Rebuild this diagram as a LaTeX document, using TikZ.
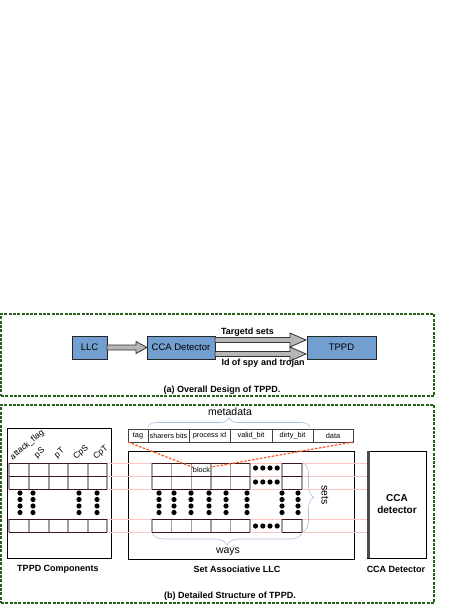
\documentclass[tikz,border=0pt]{standalone}
\usepackage{fontspec}
\setmainfont{Liberation Sans}
\usetikzlibrary{calc,decorations.pathreplacing}
\definecolor{boxblue}{HTML}{729FCF}
\definecolor{framegreen}{RGB}{40,95,30}
\definecolor{pinkline}{RGB}{255,195,195}
\definecolor{redline}{RGB}{255,85,30}
\definecolor{bracecol}{RGB}{170,190,222}
\definecolor{arrowgrey}{RGB}{182,182,182}
\definecolor{darkcell}{RGB}{60,25,25}
\newcommand\fatarr[5]{%
  \draw[fatarrow] ($#1+(0,#3)$) -- ($#2+(-#5,#3)$) -- ($#2+(-#5,#4)$) -- #2
    -- ($#2+(-#5,-#4)$) -- ($#2+(-#5,-#3)$) -- ($#1+(0,-#3)$) -- cycle;}
\begin{document}
\begin{tikzpicture}[x=1pt,y=-1pt,
  every node/.style={inner sep=0pt, outer sep=0pt},
  frame/.style={draw=framegreen, line width=1.4pt, dash pattern=on 3pt off 1.3pt},
  bluebox/.style={draw=black!85, fill=boxblue, line width=0.9pt, minimum height=23pt, font=\fontsize{9.5}{11}\selectfont},
  lbl/.style={font=\bfseries\fontsize{9}{10}\selectfont},
  fatarrow/.style={draw=black!80, fill=arrowgrey, line width=0.8pt},
  meta/.style={draw=black!75, line width=0.8pt, minimum height=13pt, anchor=north west, font=\fontsize{7.3}{8}\selectfont},
  hl/.style={draw=darkcell, line width=0.9pt},
  vl/.style={draw=gray!75, line width=1.4pt},
  dotm/.style={fill=black},
  pinkl/.style={draw=pinkline, line width=0.45pt},
  redl/.style={draw=redline, line width=1.2pt, dash pattern=on 2.5pt off 1.5pt},
  bracel/.style={draw=bracecol, line width=0.6pt, decorate, decoration={brace, amplitude=#1}},
  colhead/.style={rotate=40, anchor=base west, font=\fontsize{8.5}{9}\selectfont},
  panel/.style={draw=black, line width=1pt, anchor=north west},
  big/.style={font=\fontsize{10.5}{12}\selectfont}
]
\useasboundingbox (0,0) rectangle (468,605);

% ---------- frames ----------
\node[frame, minimum width=433pt, minimum height=82pt, anchor=north west] (framea) at (1,314) {};
\node[frame, minimum width=433pt, minimum height=198pt, anchor=north west] (frameb) at (1,405) {};

% ---------- (a) ----------
\node[bluebox, minimum width=35pt] (llc) at (89.5,347.5) {LLC};
\node[bluebox, minimum width=68pt] (ccaa) at (181,347.5) {CCA Detector};
\node[bluebox, minimum width=69pt] (tppd) at (341.5,347.5) {TPPD};
\fatarr{(llc.east)}{(ccaa.west)}{2.5}{6}{11}
\coordinate (u1) at ($(ccaa.east)+(0,-7.5)$);
\coordinate (u2) at ($(tppd.west)+(-1,-7.5)$);
\coordinate (d1) at ($(ccaa.east)+(0,6.5)$);
\coordinate (d2) at ($(tppd.west)+(-1,6.5)$);
\fatarr{(u1)}{(u2)}{2.5}{7}{16}
\fatarr{(d1)}{(d2)}{2.5}{7}{16}
\node[lbl] (ts) at (247.5,332.5) {Targetd sets};
\node[lbl] (ids) at (263,363.5) {Id of spy and trojan};
\node[lbl] (capa) at (222,390) {(a) Overall Design of TPPD.};

% ---------- (b) panels ----------
\node[panel, minimum width=104pt, minimum height=130pt] (tppdpanel) at (7,428) {};
\node[panel, minimum width=226pt, minimum height=108pt] (llcpanel) at (128,451) {};
\node[panel, minimum width=59pt, minimum height=107pt] (cca) at (367,451) {};
\fill[black!70] (cca.north west) rectangle ($(cca.south west)+(3,0)$);
\node[font=\bfseries\fontsize{10}{11.5}\selectfont, align=center] (ccatext) at (397,504) {CCA\\detector};

% pink guide lines
\foreach \y in {463,476,489,519,532}
  \draw[pinkl] (107,\y) -- (cca.west |- 0,\y);

% ---------- TPPD table ----------
\foreach \x in {9,29,49,68,88,107} {
  \draw[vl] (\x,463) -- (\x,489);
  \draw[vl] (\x,519) -- (\x,532);
}
\foreach \y in {463,476,489,519,532}
  \draw[hl] (9,\y) -- (107,\y);
\foreach \x in {20,33,79,97}
  \foreach \y in {493,499.5,506,512.5}
    \fill[dotm] (\x,\y) circle (2.6);
\node[colhead] (h1) at (13,460) {attack\_flag};
\node[colhead] (h2) at (37,458) {pS};
\node[colhead] (h3) at (57,458) {pT};
\node[colhead] (h4) at (76,459) {CpS};
\node[colhead] (h5) at (96,459) {CpT};

% ---------- LLC grid ----------
\foreach \x in {152,171.6,191.2,210.8,230.4,250,282,302} {
  \draw[vl] (\x,463) -- (\x,489);
  \draw[vl] (\x,519) -- (\x,532);
}
\foreach \y in {463,476,489,519,532} {
  \draw[hl] (152,\y) -- (250,\y);
  \draw[hl] (282,\y) -- (302,\y);
}
\foreach \x in {159,174,191,209,226,247,282,298}
  \foreach \y in {493,499.5,506,512.5}
    \fill[dotm] (\x,\y) circle (2.6);
\foreach \x in {255.5,262.8,270,277.2}
  \foreach \y in {468,482,526}
    \fill[dotm] (\x,\y) circle (2.6);

% ---------- metadata ----------
\node[meta, minimum width=20pt] (tag) at (128,429) {tag};
\node[meta, minimum width=41pt] (sharers) at (148,429) {sharers bits};
\node[meta, minimum width=41pt] (pid) at (189,429) {process id};
\node[meta, minimum width=42pt] (valid) at (230,429) {valid\_bit};
\node[meta, minimum width=41pt] (dirty) at (272,429) {dirty\_bit};
\node[meta, minimum width=40pt] (data) at (313,429) {data};
\node[big] (metalbl) at (230,412) {metadata};
\draw[bracel=9] (148,427) -- (310,427);

\node[font=\fontsize{7.3}{8}\selectfont] (block) at (201.5,470) {block};
\draw[redl] (tag.south west) -- (block.north west);
\draw[redl] (data.south east) -- (block.north east);

% braces
\draw[bracel=11] (303,463) -- (303,532);
\node[big, rotate=-90] (setslbl) at (325,495) {sets};
\draw[bracel=12] (302,533) -- (152,533);
\node[big] (wayslbl) at (228,552) {ways};

% ---------- captions ----------
\node[lbl] (c1) at (58,569) {TPPD Components};
\node[lbl] (c2) at (237,569) {Set Associative LLC};
\node[lbl] (c3) at (396,569) {CCA Detector};
\node[lbl] (capb) at (230,596) {(b) Detailed Structure of TPPD.};
\end{tikzpicture}
\end{document}
